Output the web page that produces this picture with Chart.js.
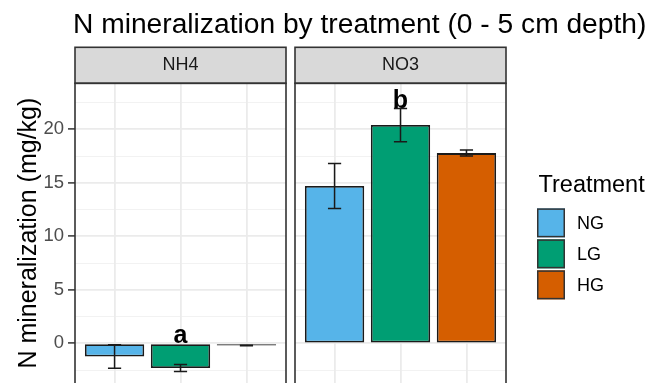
<!DOCTYPE html>
<html>
<head>
<meta charset="utf-8">
<title>N mineralization by treatment</title>
<script src="https://cdn.jsdelivr.net/npm/chart.js@4.4.1/dist/chart.umd.min.js"></script>
<style>
  html, body { margin: 0; padding: 0; background: #ffffff; overflow: hidden; }
  #box { width: 654px; height: 383px; }
</style>
</head>
<body>
<div id="box"><canvas id="chart" width="654" height="383"></canvas></div>
<script>
// ---------------- data ----------------
const plotTitle = 'N mineralization by treatment (0 - 5 cm depth)';
const yAxisTitle = 'N mineralization (mg/kg)';
const legendTitle = 'Treatment';
const treatments = ['NG', 'LG', 'HG'];
const treatmentColors = ['#56B4E9', '#009E73', '#D55E00'];
const facets = ['NH4', 'NO3'];
const nh4Mean = [-1.23, -2.30, -0.20];
const nh4SE = [1.10, 0.32, 0.03];
const no3Mean = [14.70, 20.40, 17.78];
const no3SE = [2.10, 1.55, 0.28];
const groupLetters = ['a', 'b'];
const letterTreatment = ['LG', 'LG'];
const letterLevel = [0, 21.95];
const yMajorTicks = [0, 5, 10, 15, 20];
const yMinorTicks = [-2.5, 2.5, 7.5, 12.5, 17.5, 22.5];
const yRange = [-3.7, 24.3];

// ---------------- helpers ----------------
const FONT = "'Liberation Sans', Arial, Helvetica, sans-serif";
const positions = treatments.map((_, i) => i + 1);
const facetAxisIds = facets.map(f => 'x' + f);
const facetSeries = [
  { axis: facetAxisIds[0], mean: nh4Mean, se: nh4SE },
  { axis: facetAxisIds[1], mean: no3Mean, se: no3SE }
];
const isMajor = v => yMajorTicks.includes(v);

function facetAxis(label, weight) {
  return {
    type: 'linear',
    position: 'top',
    stack: 'facets',
    stackWeight: 211,
    weight: weight,
    offset: false,
    min: 0.4,
    max: treatments.length + 0.6,
    afterBuildTicks: s => { s.ticks = positions.map(v => ({ value: v })); },
    ticks: { display: false },
    grid: { color: '#EBEBEB', lineWidth: 1.8, drawTicks: false, tickLength: 0, offset: false },
    border: { display: false },
    title: {
      display: true, text: label, color: '#1A1A1A',
      font: { family: FONT, size: 18 },
      padding: { top: 7.2, bottom: 7.2 }
    }
  };
}

// strips, panel borders, error bars, letters, title and legend
const facetDecor = {
  id: 'facetDecor',
  beforeDraw(chart, args, o) {
    const { ctx, chartArea, scales } = chart;
    ctx.save();
    ctx.fillStyle = o.stripFill;
    facetAxisIds.forEach(id => {
      const s = scales[id];
      ctx.fillRect(s.left, s.top, s.right - s.left, chartArea.top - s.top);
    });
    ctx.restore();
  },
  beforeDatasetsDraw(chart, args, o) {
    const { ctx, chartArea, scales } = chart;
    const g = scales.gap;
    ctx.save();
    ctx.fillStyle = '#ffffff';
    ctx.fillRect(g.left, g.top, g.right - g.left, chartArea.bottom - g.top + 2);
    ctx.restore();
  },
  afterDatasetsDraw(chart, args, o) {
    const { ctx, chartArea, scales } = chart;
    const y = scales.y;
    ctx.save();

    // error bars
    ctx.strokeStyle = o.errorColor;
    ctx.lineWidth = o.errorWidth;
    facetSeries.forEach(f => {
      const xs = scales[f.axis];
      f.mean.forEach((m, i) => {
        const xc = xs.getPixelForValue(positions[i]);
        const half = xs.getPixelForValue(positions[i] + o.capHalfWidth) - xc;
        const yLo = y.getPixelForValue(m - f.se[i]);
        const yHi = y.getPixelForValue(m + f.se[i]);
        ctx.beginPath();
        ctx.moveTo(xc, yLo); ctx.lineTo(xc, yHi);
        ctx.moveTo(xc - half, yLo); ctx.lineTo(xc + half, yLo);
        ctx.moveTo(xc - half, yHi); ctx.lineTo(xc + half, yHi);
        ctx.stroke();
      });
    });

    // group letters
    ctx.fillStyle = '#000000';
    ctx.font = `bold ${o.letterSize}px ${FONT}`;
    ctx.textAlign = 'center';
    ctx.textBaseline = 'alphabetic';
    groupLetters.forEach((txt, p) => {
      const xs = scales[facetAxisIds[p]];
      const xi = positions[treatments.indexOf(letterTreatment[p])];
      ctx.fillText(txt, xs.getPixelForValue(xi), y.getPixelForValue(letterLevel[p]));
    });

    // strip and panel borders
    ctx.strokeStyle = o.borderColor;
    ctx.lineWidth = o.borderWidth;
    facetAxisIds.forEach(id => {
      const s = scales[id];
      ctx.strokeRect(s.left, s.top, s.right - s.left, chartArea.top - s.top);
      ctx.strokeRect(s.left, chartArea.top, s.right - s.left, chartArea.bottom - chartArea.top + 10);
    });

    // plot title, aligned with the first panel
    const first = scales[facetAxisIds[0]];
    ctx.fillStyle = '#000000';
    ctx.font = `${o.titleSize}px ${FONT}`;
    ctx.textAlign = 'left';
    ctx.textBaseline = 'alphabetic';
    ctx.fillText(plotTitle, first.left - 2, o.titleBaseline);

    // legend
    const L = o.legend;
    const lx = chartArea.right + L.offsetX;
    const cy = (chartArea.top + chartArea.bottom) / 2;
    ctx.font = `${L.titleSize}px ${FONT}`;
    ctx.fillText(legendTitle, lx + 1.5, cy + L.titleDy);
    ctx.font = `${L.labelSize}px ${FONT}`;
    ctx.textBaseline = 'middle';
    treatments.forEach((t, i) => {
      const top = cy + L.keyDy + i * (L.keyH + L.keyGap);
      ctx.fillStyle = treatmentColors[i];
      ctx.fillRect(lx, top, L.keyW, L.keyH);
      ctx.strokeStyle = '#333333';
      ctx.lineWidth = 1.5;
      ctx.strokeRect(lx + 0.75, top + 0.75, L.keyW - 1.5, L.keyH - 1.5);
      ctx.fillStyle = '#000000';
      ctx.fillText(t, lx + L.labelDx, top + L.keyH / 2 + 1);
    });

    ctx.restore();
  }
};

Chart.defaults.font.family = FONT;

new Chart(document.getElementById('chart'), {
  type: 'bar',
  data: {
    datasets: facetSeries.map((f, p) => ({
      label: facets[p],
      xAxisID: f.axis,
      yAxisID: 'y',
      data: f.mean.map((v, i) => ({ x: positions[i], y: v })),
      backgroundColor: treatmentColors,
      borderColor: '#1A1A1A',
      borderWidth: 1.8,
      borderSkipped: false,
      grouped: false,
      barPercentage: 0.9,
      categoryPercentage: 1.0
    }))
  },
  options: {
    responsive: false,
    animation: false,
    devicePixelRatio: 1,
    events: [],
    layout: { autoPadding: false, padding: { top: 47.3, right: 148, bottom: 0, left: 0 } },
    scales: {
      y: {
        type: 'linear',
        position: 'left',
        min: yRange[0],
        max: yRange[1],
        afterBuildTicks: s => {
          s.ticks = [...yMinorTicks, ...yMajorTicks].sort((a, b) => a - b).map(v => ({ value: v }));
        },
        // fixed axis width; the panel runs to the bottom edge of the canvas
        afterFit: s => { s.width = 75; s.paddingTop = 0; s.paddingBottom = 0; },
        ticks: {
          autoSkip: false,
          padding: 4,
          color: '#4D4D4D',
          font: { family: FONT, size: 18.5 },
          callback: v => isMajor(v) ? String(v) : ''
        },
        grid: {
          color: c => (c.tick && isMajor(c.tick.value)) ? '#EBEBEB' : '#F2F2F2',
          lineWidth: c => (c.tick && isMajor(c.tick.value)) ? 1.8 : 1.0,
          tickColor: c => (c.tick && isMajor(c.tick.value)) ? '#333333' : 'rgba(0,0,0,0)',
          tickWidth: 1.5,
          tickLength: 7,
          drawTicks: true
        },
        border: { display: false },
        title: {
          display: true, text: yAxisTitle, color: '#000000',
          font: { family: FONT, size: 25 },
          padding: { top: 14, bottom: 0 }
        }
      },
      [facetAxisIds[0]]: facetAxis(facets[0], 2),
      gap: {
        type: 'linear',
        position: 'top',
        stack: 'facets',
        stackWeight: 9,
        weight: 1,
        ticks: { display: false },
        grid: { display: false, drawTicks: false },
        border: { display: false }
      },
      [facetAxisIds[1]]: facetAxis(facets[1], 0)
    },
    plugins: {
      legend: { display: false },
      title: { display: false },
      tooltip: { enabled: false },
      facetDecor: {
        stripFill: '#D9D9D9',
        borderColor: '#333333',
        borderWidth: 1.6,
        errorColor: '#1A1A1A',
        errorWidth: 1.5,
        capHalfWidth: 0.1,
        letterSize: 25,
        titleSize: 28.2,
        titleBaseline: 33.3,
        legend: {
          offsetX: 31,
          titleSize: 23.5,
          titleDy: -40.8,
          keyDy: -24.8,
          keyW: 28,
          keyH: 29,
          keyGap: 2,
          labelSize: 18,
          labelDx: 40
        }
      }
    }
  },
  plugins: [facetDecor]
});
</script>
</body>
</html>
